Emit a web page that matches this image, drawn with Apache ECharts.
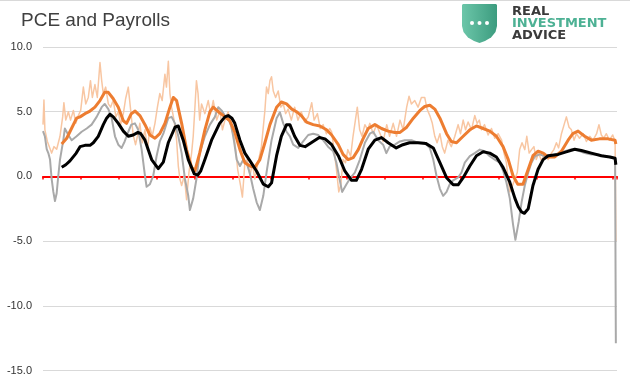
<!DOCTYPE html>
<html>
<head>
<meta charset="utf-8">
<script src="https://cdn.jsdelivr.net/npm/echarts@6/dist/echarts.min.js"></script>
<style>
  html, body { margin: 0; padding: 0; background: #fff; }
  #chart { width: 630px; height: 376px; }
</style>
</head>
<body>
<div id="chart"></div>
<script>
// years are decimal years, values are % year over year
const yTicks = [-15, -10, -5, 0, 5, 10];

// PCE yoy (monthly, noisy)
const pce = [
  [1960.0,4.0],[1960.1,5.9],[1960.2,3.6],[1960.46,2.7],[1960.65,2.8],[1960.91,1.8],[1961.15,2.3],[1961.44,2.1],
  [1961.79,3.1],[1962.07,4.6],[1962.2,5.7],[1962.4,4.35],[1962.67,5.0],[1962.9,4.35],[1963.2,5.1],[1963.45,4.1],
  [1963.72,4.7],[1963.97,5.1],[1964.25,6.9],[1964.5,5.6],[1964.77,6.1],[1965.0,7.4],[1965.2,6.1],[1965.47,7.1],
  [1965.72,6.1],[1966.0,8.8],[1966.18,7.4],[1966.35,6.4],[1966.6,6.9],[1966.88,5.6],[1967.12,5.35],[1967.4,5.9],
  [1967.68,4.6],[1967.93,5.0],[1968.18,4.0],[1968.46,4.85],[1968.7,6.0],[1968.98,6.9],[1969.2,5.35],[1969.5,3.2],
  [1969.75,2.45],[1970.0,3.3],[1970.2,4.1],[1970.45,2.6],[1970.74,3.6],[1971.0,2.07],[1971.26,3.8],[1971.5,3.1],
  [1971.79,4.1],[1972.05,5.35],[1972.3,6.4],[1972.55,5.86],[1972.84,7.9],[1973.0,6.9],[1973.2,8.9],[1973.37,6.4],
  [1973.54,5.35],[1973.8,4.35],[1974.07,2.8],[1974.25,0.8],[1974.42,-0.2],[1974.6,-0.7],[1974.88,0.05],[1975.12,-1.8],
  [1975.37,0.3],[1975.65,1.8],[1975.82,3.1],[1976.0,5.35],[1976.16,7.4],[1976.33,6.4],[1976.5,4.35],[1976.7,5.6],
  [1977.05,4.85],[1977.4,5.86],[1977.65,4.85],[1977.93,5.86],[1978.3,4.35],[1978.63,5.1],[1978.9,3.6],[1979.16,4.35],
  [1979.5,5.0],[1979.86,3.6],[1980.1,3.1],[1980.3,2.07],[1980.5,0.55],[1980.8,-0.7],[1981.0,-1.6],[1981.26,1.06],
  [1981.5,1.3],[1981.8,0.05],[1982.05,1.06],[1982.3,-0.2],[1982.65,1.06],[1983.0,2.3],[1983.37,5.1],[1983.54,6.9],
  [1983.72,6.4],[1983.9,7.4],[1984.07,7.7],[1984.25,6.6],[1984.5,6.1],[1984.77,6.6],[1985.05,5.35],[1985.3,5.6],
  [1985.55,4.85],[1985.82,5.2],[1986.15,4.35],[1986.5,5.35],[1986.85,4.35],[1987.2,5.0],[1987.55,4.2],[1987.93,4.6],
  [1988.3,5.7],[1988.55,4.35],[1988.9,4.85],[1989.2,3.7],[1989.5,4.0],[1989.85,3.3],[1990.2,3.7],[1990.4,3.45],
  [1990.65,2.07],[1990.9,0.55],[1991.15,-1.2],[1991.37,-0.6],[1991.6,1.3],[1991.86,1.06],[1992.1,2.07],[1992.4,1.56],
  [1992.65,3.1],[1992.9,4.35],[1993.1,5.35],[1993.35,3.6],[1993.6,3.1],[1993.9,4.0],[1994.2,3.6],[1994.42,4.1],
  [1994.77,3.3],[1995.12,4.0],[1995.5,3.3],[1995.82,2.7],[1996.2,4.0],[1996.5,3.1],[1996.88,4.1],[1997.23,3.1],
  [1997.6,4.35],[1997.93,3.6],[1998.3,5.35],[1998.55,6.2],[1998.8,5.6],[1999.15,5.86],[1999.5,5.35],[1999.85,6.1],
  [2000.2,6.1],[2000.45,5.2],[2000.74,4.7],[2001.0,4.1],[2001.26,3.1],[2001.5,2.6],[2001.8,3.3],[2002.05,2.3],
  [2002.3,1.8],[2002.65,2.8],[2003.0,2.3],[2003.37,3.1],[2003.72,4.0],[2003.97,3.3],[2004.25,4.35],[2004.5,3.6],
  [2004.77,4.2],[2005.12,3.6],[2005.47,4.7],[2005.72,4.1],[2005.95,4.35],[2006.18,3.6],[2006.5,4.0],[2006.88,3.2],
  [2007.23,3.7],[2007.58,2.95],[2007.93,3.3],[2008.3,2.8],[2008.55,1.8],[2008.8,1.06],[2008.98,-0.2],[2009.16,-1.2],
  [2009.45,-0.7],[2009.7,-0.2],[2009.95,0.3],[2010.2,2.07],[2010.45,2.6],[2010.74,2.07],[2010.95,3.1],[2011.2,1.8],
  [2011.45,2.07],[2011.7,2.3],[2011.95,1.3],[2012.2,1.8],[2012.5,1.2],[2012.84,1.8],[2013.2,1.3],[2013.54,1.8],
  [2013.8,2.07],[2014.07,2.6],[2014.3,2.2],[2014.6,3.3],[2014.88,4.0],[2015.12,4.6],[2015.4,3.8],[2015.65,3.6],
  [2015.92,2.8],[2016.18,3.3],[2016.5,2.95],[2016.88,3.3],[2017.23,2.7],[2017.58,3.1],[2017.93,2.8],[2018.3,3.3],
  [2018.55,4.0],[2018.8,3.2],[2019.05,2.95],[2019.33,3.3],[2019.65,2.8],[2020.0,3.2],[2020.25,2.7],[2020.33,-5.0]
];

// Payrolls yoy
const payrolls = [
  [1960.0,3.5],[1960.2,3.1],[1960.39,2.1],[1960.56,1.8],[1960.74,1.3],[1960.91,-0.2],[1961.09,-1.2],[1961.26,-1.9],
  [1961.44,-1.3],[1961.61,0.05],[1961.79,1.3],[1962.14,2.8],[1962.3,3.7],[1962.67,3.2],[1963.02,2.8],[1963.54,3.1],
  [1964.07,3.45],[1964.6,3.7],[1965.12,4.0],[1965.65,4.6],[1966.18,5.35],[1966.5,5.6],[1966.88,5.2],[1967.23,4.5],
  [1967.58,3.1],[1967.93,2.45],[1968.28,2.2],[1968.6,2.7],[1968.98,3.45],[1969.3,4.0],[1969.68,4.1],[1970.03,3.6],
  [1970.39,2.07],[1970.74,0.05],[1970.91,-0.8],[1971.26,-0.6],[1971.61,0.05],[1971.96,1.56],[1972.3,2.7],[1972.67,3.3],
  [1973.19,4.5],[1973.54,4.6],[1973.9,4.1],[1974.25,3.1],[1974.6,1.8],[1974.95,-0.2],[1975.3,-1.5],[1975.47,-2.6],
  [1975.82,-1.7],[1976.16,-0.2],[1976.5,1.8],[1977.05,3.1],[1977.58,4.0],[1978.1,4.6],[1978.46,5.35],[1978.8,5.1],
  [1979.33,4.5],[1979.6,4.3],[1979.86,3.8],[1980.1,2.8],[1980.4,1.3],[1980.74,0.8],[1981.1,1.3],[1981.44,1.06],
  [1981.8,0.18],[1982.14,-0.96],[1982.5,-2.0],[1982.84,-2.6],[1983.2,-1.5],[1983.54,0.3],[1984.07,2.8],[1984.6,4.5],
  [1984.95,4.95],[1985.3,4.1],[1985.65,3.45],[1986.0,3.1],[1986.35,2.45],[1986.88,2.2],[1987.4,2.7],[1987.93,3.2],
  [1988.46,3.3],[1988.98,3.2],[1989.5,2.8],[1990.02,2.3],[1990.56,1.95],[1990.9,1.06],[1991.26,-0.3],[1991.5,-1.2],
  [1991.96,-0.6],[1992.3,-0.2],[1992.84,0.3],[1993.37,1.3],[1993.9,2.6],[1994.42,3.3],[1994.77,3.45],[1995.3,2.8],
  [1995.82,2.45],[1996.16,1.8],[1996.5,2.3],[1997.05,2.45],[1997.58,2.7],[1998.1,2.8],[1998.8,2.8],[1999.5,2.6],
  [2000.2,2.6],[2000.74,2.2],[2001.1,1.3],[2001.44,0.05],[2001.8,-0.96],[2002.14,-1.5],[2002.5,-1.2],[2002.84,-0.6],
  [2003.2,-0.3],[2003.72,-0.08],[2004.07,0.3],[2004.42,1.06],[2004.95,1.56],[2005.47,1.8],[2006.0,2.07],[2006.5,1.95],
  [2007.05,1.56],[2007.58,1.3],[2008.1,1.06],[2008.46,0.43],[2008.8,-0.45],[2009.16,-1.7],[2009.5,-3.7],[2009.75,-4.9],
  [2009.95,-5.0],[2010.1,-3.5],[2010.4,-2.0],[2010.74,-0.7],[2011.1,0.3],[2011.44,1.06],[2011.8,1.56],[2012.3,1.7],
  [2012.84,1.56],[2013.54,1.6],[2014.25,1.77],[2014.95,1.95],[2015.65,2.1],[2016.35,2.0],[2017.05,1.8],[2017.75,1.7],
  [2018.46,1.7],[2019.16,1.56],[2019.86,1.45],[2020.2,1.36],[2020.25,1.2],[2020.33,-12.9]
];

// PCE, smoothed
const pceAvg = [
  [1961.97,2.5],[1962.5,2.95],[1963.0,3.7],[1963.54,4.5],[1963.9,4.6],[1964.42,4.85],[1964.95,5.05],[1965.47,5.35],
  [1966.0,5.86],[1966.5,6.5],[1966.88,6.5],[1967.4,6.0],[1967.93,5.35],[1968.46,4.3],[1968.8,4.1],[1969.3,4.85],
  [1969.7,5.05],[1970.2,4.7],[1970.74,4.0],[1971.26,3.2],[1971.79,2.95],[1972.3,3.3],[1972.84,4.1],[1973.37,5.35],
  [1973.72,6.1],[1974.07,5.86],[1974.6,4.1],[1975.12,2.07],[1975.65,0.7],[1976.0,0.43],[1976.5,1.8],[1977.05,3.6],
  [1977.58,5.0],[1977.93,5.35],[1978.46,5.0],[1979.0,4.7],[1979.68,4.3],[1980.2,3.4],[1980.74,2.07],[1981.26,1.06],
  [1981.8,0.8],[1982.3,0.7],[1982.84,1.3],[1983.37,2.6],[1983.9,4.0],[1984.6,5.35],[1985.1,5.75],[1985.65,5.6],
  [1986.2,5.2],[1986.7,5.0],[1987.2,4.7],[1987.75,4.2],[1988.45,4.0],[1989.16,3.9],[1989.86,3.6],[1990.4,3.2],
  [1991.1,2.45],[1991.6,1.7],[1992.14,1.3],[1992.67,1.45],[1993.2,2.07],[1993.7,2.9],[1994.25,3.7],[1994.95,4.0],
  [1995.65,3.7],[1996.35,3.5],[1997.05,3.4],[1997.6,3.4],[1998.3,3.8],[1999.0,4.5],[1999.7,5.1],[2000.2,5.4],
  [2000.74,5.5],[2001.26,5.2],[2001.8,4.5],[2002.5,3.3],[2003.0,2.7],[2003.55,2.6],[2004.25,3.1],[2004.95,3.6],
  [2005.65,3.9],[2006.35,3.7],[2007.05,3.5],[2007.75,3.1],[2008.45,2.3],[2009.0,1.3],[2009.5,0.05],[2010.0,-0.6],
  [2010.2,-0.7],[2010.55,-0.6],[2011.1,0.55],[2011.6,1.6],[2012.14,1.95],[2012.67,1.8],[2013.2,1.5],[2013.9,1.5],
  [2014.6,1.95],[2015.3,2.8],[2015.8,3.3],[2016.35,3.5],[2017.05,3.1],[2017.75,2.8],[2018.6,2.9],[2019.5,2.9],
  [2020.25,2.8],[2020.33,2.5]
];

// Payrolls, smoothed
const payrollsAvg = [
  [1961.97,0.7],[1962.4,0.9],[1962.84,1.2],[1963.5,1.8],[1963.9,2.3],[1964.42,2.4],[1964.95,2.4],[1965.3,2.6],
  [1965.82,3.1],[1966.35,4.0],[1966.7,4.5],[1967.05,4.8],[1967.4,4.6],[1967.93,4.1],[1968.46,3.5],[1968.98,3.1],
  [1969.5,3.2],[1970.0,3.4],[1970.3,3.3],[1970.74,2.8],[1971.44,1.3],[1972.14,0.6],[1972.67,1.1],[1973.19,2.6],
  [1973.9,3.8],[1974.25,3.9],[1974.77,2.8],[1975.3,1.3],[1975.93,0.2],[1976.3,0.1],[1976.6,0.4],[1977.05,1.3],
  [1977.75,2.8],[1978.6,4.1],[1979.16,4.6],[1979.5,4.7],[1979.9,4.5],[1980.2,4.1],[1980.74,2.8],[1981.26,1.8],
  [1981.8,1.2],[1982.5,0.4],[1983.2,-0.6],[1983.72,-0.8],[1984.07,-0.5],[1984.6,1.6],[1985.1,3.1],[1985.65,4.0],
  [1986.0,4.0],[1986.5,3.1],[1987.05,2.4],[1987.6,2.3],[1988.45,2.7],[1989.1,3.0],[1989.7,2.9],[1990.4,2.45],
  [1991.1,1.6],[1991.8,0.4],[1992.5,-0.3],[1993.0,-0.3],[1993.55,0.55],[1994.25,2.1],[1994.95,2.8],[1995.65,3.0],
  [1996.35,2.6],[1997.2,2.2],[1997.9,2.45],[1998.6,2.6],[1999.5,2.6],[2000.3,2.55],[2001.1,2.2],[2001.8,1.06],
  [2002.5,-0.1],[2003.2,-0.65],[2003.72,-0.65],[2004.25,-0.1],[2004.95,0.8],[2005.65,1.6],[2006.35,1.9],[2007.05,1.8],
  [2007.75,1.5],[2008.45,0.7],[2009.16,-0.45],[2009.7,-1.7],[2010.05,-2.35],[2010.4,-2.75],[2010.7,-2.85],[2011.1,-2.5],
  [2011.35,-1.6],[2011.6,-0.7],[2012.14,0.55],[2012.67,1.3],[2013.2,1.6],[2014.25,1.7],[2015.1,1.9],[2016.0,2.1],
  [2016.7,2.0],[2017.75,1.8],[2018.8,1.6],[2019.7,1.5],[2020.25,1.4],[2020.33,0.9]
];

const chart = echarts.init(document.getElementById('chart'), null, { renderer: 'canvas' });

const line = (data, color, width) => ({
  type: 'line',
  data: data,
  showSymbol: false,
  symbol: 'none',
  silent: true,
  lineStyle: { color: color, width: width, join: 'round' },
  emphasis: { disabled: true }
});

// logo shield outline
const shield = [
  [463, 4], [496, 4], [497, 5], [497, 26], [495.5, 32], [491, 37.5], [485, 41], [479.5, 43],
  [474, 41], [468, 37.5], [463.5, 32], [462, 26], [462, 5]
];

chart.setOption({
  animation: false,
  backgroundColor: '#fff',
  grid: { left: 43, right: 13, top: 47, bottom: 1 },
  xAxis: {
    type: 'value',
    min: 1960,
    max: 2020.45,
    interval: 4,
    axisLine: { onZero: true, lineStyle: { color: '#FF0000', width: 2 } },
    axisTick: { show: true, length: 3, lineStyle: { color: '#FF0000', width: 1.5 } },
    axisLabel: { show: false },
    splitLine: { show: false }
  },
  yAxis: {
    type: 'value',
    min: -15,
    max: 10,
    interval: 5,
    axisLine: { show: false },
    axisTick: { show: false },
    axisLabel: {
      formatter: v => v.toFixed(1),
      color: '#333333',
      fontSize: 11,
      margin: 11,
      fontFamily: 'Liberation Sans'
    },
    splitLine: { lineStyle: { color: '#D9D9D9', width: 1 } }
  },
  series: [
    line(pce, '#F8C6A2', 1.5),
    line(payrolls, '#A9A9A9', 2),
    line(pceAvg, '#ED7D31', 3),
    line(payrollsAvg, '#000000', 3)
  ],
  graphic: [
    { type: 'line', shape: { x1: 0, y1: 0.5, x2: 630, y2: 0.5 }, style: { stroke: '#D9D9D9', lineWidth: 1 } },
    {
      type: 'text', x: 21, y: 11,
      style: { text: 'PCE and Payrolls', fontSize: 19, fontFamily: 'Liberation Sans', fill: '#404040' }
    },
    {
      type: 'polygon',
      shape: { points: shield },
      style: {
        fill: {
          type: 'linear', x: 0, y: 0, x2: 1, y2: 0,
          colorStops: [
            { offset: 0, color: '#6CC6A9' },
            { offset: 1, color: '#3C9C7F' }
          ]
        }
      }
    },
    { type: 'circle', shape: { cx: 472, cy: 23, r: 2 }, style: { fill: '#fff' } },
    { type: 'circle', shape: { cx: 479.5, cy: 23, r: 2 }, style: { fill: '#fff' } },
    { type: 'circle', shape: { cx: 487, cy: 23, r: 2 }, style: { fill: '#fff' } },
    {
      type: 'text', x: 512, y: 5,
      style: { text: 'REAL', fontSize: 13, fontWeight: 'bold', fontFamily: 'DejaVu Sans', fill: '#3B3B3B' }
    },
    {
      type: 'text', x: 512, y: 17,
      style: { text: 'INVESTMENT', fontSize: 13, fontWeight: 'bold', fontFamily: 'DejaVu Sans', fill: '#4DB194' }
    },
    {
      type: 'text', x: 512, y: 29.5,
      style: { text: 'ADVICE', fontSize: 13, fontWeight: 'bold', fontFamily: 'DejaVu Sans', fill: '#3B3B3B' }
    }
  ]
});
</script>
</body>
</html>
